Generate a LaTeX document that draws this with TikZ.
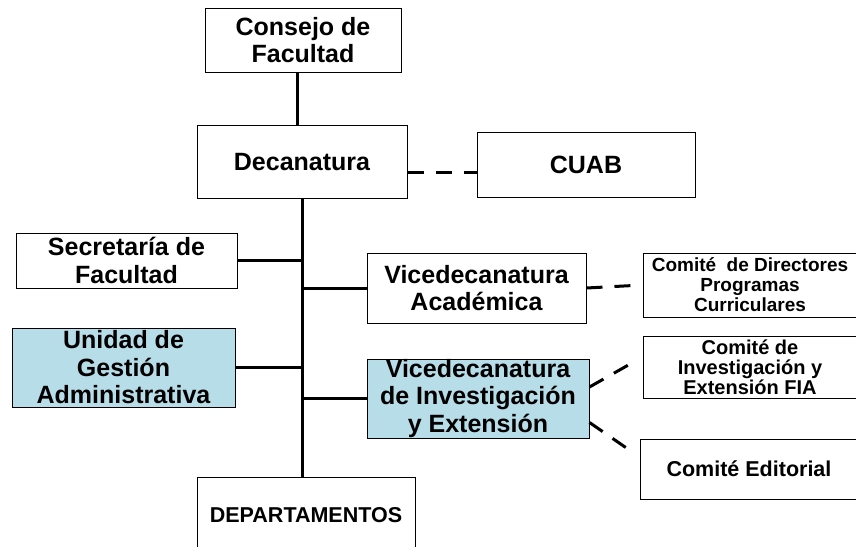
\documentclass[tikz,border=0pt]{standalone}
\usepackage{fontspec}
\setmainfont{Liberation Sans}
\usepackage{tikz}

\definecolor{hellblau}{RGB}{183,221,232}

\begin{document}
\begin{tikzpicture}[x=1pt, y=-1pt,
    box/.style={draw, line width=1pt, align=center, inner sep=0pt,
      font=\bfseries\fontsize{25}{27.5}\selectfont},
    blau/.style={box, fill=hellblau},
    klein/.style={font=\bfseries\fontsize{#1}{20}\selectfont},
    linie/.style={line width=3pt},
    strich/.style={line width=3pt, dash pattern=on 16pt off 12pt}]
  \clip (0,0) rectangle (856,546);

  % Kasten
  \node[box, minimum width=196, minimum height=64] (consejo) at (303,40) {Consejo de\\Facultad};
  \node[box, minimum width=210, minimum height=73] (decanatura) at (302,162) {Decanatura};
  \node[box, minimum width=218, minimum height=65] (cuab) at (586,164.5) {CUAB};
  \node[box, minimum width=221, minimum height=55] (secretaria) at (126.5,260.5) {Secretaría de\\Facultad};
  \node[blau, minimum width=223, minimum height=79] (unidad) at (123.5,367.5) {Unidad de\\Gestión\\Administrativa};
  \node[box, minimum width=219, minimum height=70] (viceacad) at (476.5,288) {Vicedecanatura\\Académica};
  \node[blau, minimum width=222, minimum height=79] (viceinv) at (478,398.5) {Vicedecanatura\\de Investigación\\y Extensión};
  \node[box, klein=21.5, minimum width=218, minimum height=76] (deptos) at (306,515) {DEPARTAMENTOS};

  \node[box, klein=19, minimum width=214, minimum height=64] (directores) at (750,285) {Comité\ \ de Directores\\Programas\\Curriculares};
  \node[box, klein=20, minimum width=214, minimum height=62] (comiteinv) at (750,367) {Comité de\\Investigación y\\Extensión FIA};
  \node[box, klein=21.5, minimum width=218, minimum height=60] (editorial) at (749,469) {Comité Editorial};

  % Linien
  \begin{scope}[linie]
    \draw ([xshift=-6pt]consejo.south) -- ([xshift=-6pt]consejo.south |- decanatura.north);
    \draw (decanatura.south) -- (decanatura.south |- deptos.north);
    \draw (secretaria.east) -- (secretaria.east -| decanatura.south);
    \draw (unidad.east) -- (unidad.east -| decanatura.south);
    \draw (viceacad.west) -- (viceacad.west -| decanatura.south);
    \draw (viceinv.west) -- (viceinv.west -| decanatura.south);
  \end{scope}

  \begin{scope}[strich]
    \draw ([yshift=-10pt]decanatura.east) -- ([yshift=-10pt]decanatura.east -| cuab.west);
    \draw[shorten >=12pt] (viceacad.east) -- (directores.west);
    \draw[shorten >=11pt] ([yshift=11.5pt]viceinv.east) -- ([yshift=10pt]comiteinv.west);
    \draw[shorten >=12pt] ([yshift=-24pt]viceinv.east) -- ([yshift=12pt]editorial.west);
  \end{scope}

\end{tikzpicture}
\end{document}
